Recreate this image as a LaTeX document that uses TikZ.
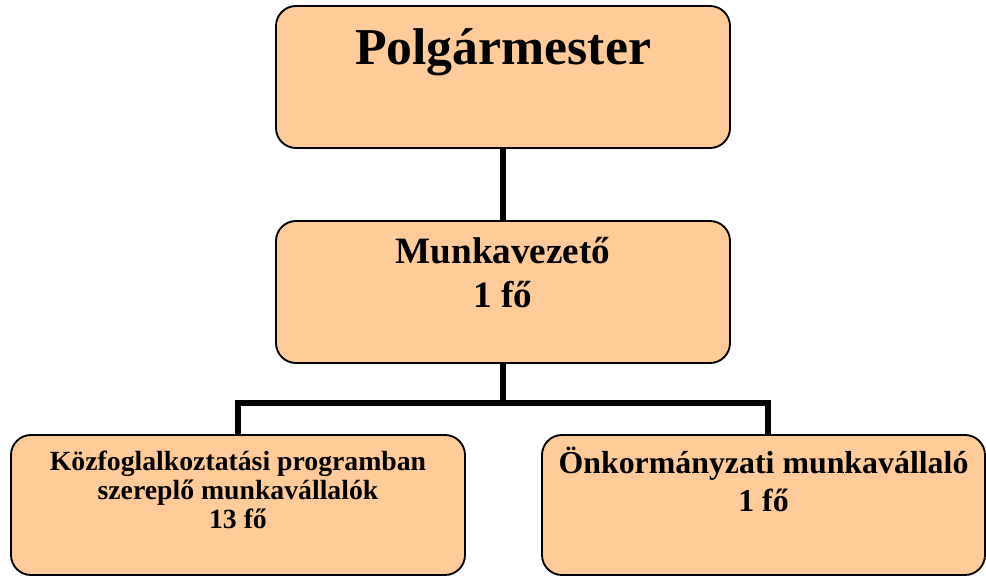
\documentclass[tikz,border=0pt]{standalone}
\usepackage{fontspec}
\setmainfont{Liberation Serif}
\definecolor{unitFill}{RGB}{255,204,153}
\newcommand{\PX}{0.75pt}

\begin{document}
\begin{tikzpicture}[x=0.75pt, y=-0.75pt,
    unit/.style={draw=black, line width=1.4pt, fill=unitFill, rounded corners=15pt, inner sep=0pt},
    conn/.style={draw=black, line width=3.8pt},
    lbl/.style={align=center, inner sep=0pt, anchor=base},
  ]
  \useasboundingbox (0,0) rectangle (986,576);

  % organisation units
  \node[unit, minimum width={454*\PX}, minimum height={142*\PX}] (pm) at (503,77) {};
  \node[unit, minimum width={454*\PX}, minimum height={142*\PX}] (mv) at (503,292) {};
  \node[unit, minimum width={454*\PX}, minimum height={140*\PX}] (kf) at (238,505) {};
  \node[unit, minimum width={443*\PX}, minimum height={140*\PX}] (onk) at (763.5,505) {};

  % labels, top aligned in each unit (base = last line)
  \node[lbl, font=\fontsize{38.8pt}{46pt}\selectfont\bfseries] (pmT) at (503,64) {Polgármester};
  \node[lbl, font=\fontsize{27.9pt}{33pt}\selectfont\bfseries] (mvT) at (503,307) {Munkavezető\\1 fő};
  \node[lbl, font=\fontsize{20.8pt}{21.75pt}\selectfont\bfseries] (kfT) at (238,528)
    {Közfoglalkoztatási programban\\szereplő munkavállalók\\13 fő};
  \node[lbl, font=\fontsize{23.9pt}{28.5pt}\selectfont\bfseries] (onkT) at (763.5,511)
    {Önkormányzati munkavállaló\\1 fő};

  % connectors
  \coordinate (jn) at (503,403);
  \coordinate (onkTop) at (768,435);
  \draw[conn] (pm.south) -- (mv.north);
  \draw[conn] (mv.south) -- (jn);
  \draw[conn] (kf.north) |- (jn) -| (onkTop);

\end{tikzpicture}
\end{document}
